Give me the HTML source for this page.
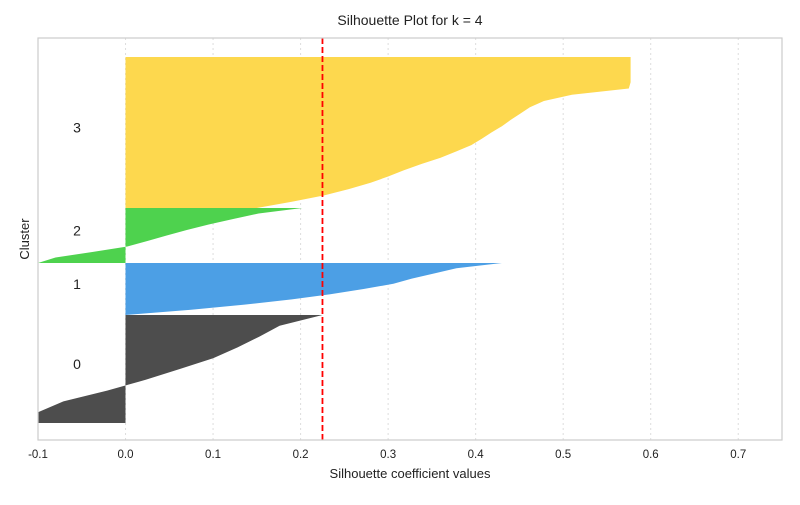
<!DOCTYPE html>
<html><head><meta charset="utf-8"><style>
body{margin:0;background:#fff;font-family:"Liberation Sans",sans-serif;}
</style></head><body>
<svg id="chart" width="800" height="500" viewBox="0 0 800 500" xmlns="http://www.w3.org/2000/svg">
<rect x="0" y="0" width="800" height="500" fill="#fff"/>
<g id="grid"></g>
<g id="marks"></g>
<rect x="38" y="38" width="744" height="402" fill="none" stroke="#cccccc" stroke-width="1.2"/>
<g id="ticks"></g>
<text x="410" y="25" text-anchor="middle" font-size="14" fill="#222">Silhouette Plot for k = 4</text>
<text x="410" y="478" text-anchor="middle" font-size="13" fill="#222">Silhouette coefficient values</text>
<text transform="translate(29,239) rotate(-90)" text-anchor="middle" font-size="13" fill="#222">Cluster</text>
</svg>
<script>
const clusterNames = ["0","1","2","3"];
const clusterSizes = [108, 52, 55, 151];
const cluster0 = [-0.3,-0.14,-0.071,-0.021,0.023,0.062,0.10,0.128,0.153,0.176,0.225];
const cluster1 = [0.0,0.075,0.136,0.19,0.234,0.272,0.306,0.327,0.353,0.378,0.43];
const cluster2 = [-0.11,-0.08,-0.038,0.002,0.025,0.047,0.07,0.095,0.123,0.152,0.202];
const cluster3 = [0.15,0.19,0.227,0.255,0.28,0.30,0.318,0.338,0.36,0.378,0.395,0.407,0.418,0.43,0.44,0.451,0.462,0.478,0.51,0.575,0.577,0.577,0.577,0.577,0.577];
const silhouetteAvg = 0.225;
const xTicks = [-0.1,0.0,0.1,0.2,0.3,0.4,0.5,0.6,0.7];
const tickLabels = ["-0.1","0.0","0.1","0.2","0.3","0.4","0.5","0.6","0.7"];
const colors = ["#4d4d4d","#4c9fe5","#4ed24e","#fdd84e"];

const NS="http://www.w3.org/2000/svg";
const X0=38,X1=782,Y0=440,Y1=38;
const xMin=-0.1,xMax=0.75,yMax=402;
function xs(v){return X0+(v-xMin)/(xMax-xMin)*(X1-X0);}
function ys(u){return Y0-u/yMax*(Y0-Y1);}
function clampX(v){return Math.max(X0,Math.min(X1,xs(v)));}

const grid=document.getElementById('grid');
const ticks=document.getElementById('ticks');
xTicks.forEach((t,i)=>{
  const l=document.createElementNS(NS,'line');
  l.setAttribute('x1',xs(t));l.setAttribute('x2',xs(t));
  l.setAttribute('y1',Y1);l.setAttribute('y2',Y0);
  l.setAttribute('stroke','#dddddd');l.setAttribute('stroke-dasharray','2,3');
  
  
  grid.appendChild(l);
  const tx=document.createElementNS(NS,'text');
  tx.setAttribute('x',xs(t));tx.setAttribute('y',458);
  tx.setAttribute('text-anchor','middle');tx.setAttribute('font-size','11.5');tx.setAttribute('fill','#222');
  tx.textContent=tickLabels[i];
  
  
  ticks.appendChild(tx);
});

const marks=document.getElementById('marks');
const series=[cluster0,cluster1,cluster2,cluster3];
let yLower=17;
series.forEach((vals,c)=>{
  const size=clusterSizes[c];
  const n=vals.length-1;
  let pts=[[clampX(0),ys(yLower)]];
  vals.forEach((v,i)=>{pts.push([clampX(v),ys(yLower+size*i/n)]);});
  pts.push([clampX(0),ys(yLower+size)]);
  const p=document.createElementNS(NS,'polygon');
  p.setAttribute('points',pts.map(q=>q[0].toFixed(1)+','+q[1].toFixed(1)).join(' '));
  p.setAttribute('fill',colors[c]);
  
  
  marks.appendChild(p);
  const t=document.createElementNS(NS,'text');
  t.setAttribute('x',77);t.setAttribute('y',ys(yLower+size/2));
  t.setAttribute('text-anchor','middle');t.setAttribute('font-size','14');t.setAttribute('fill','#222');
  t.textContent=clusterNames[c];
  
  
  marks.appendChild(t);
  yLower+=size;
});
const av=document.createElementNS(NS,'line');
av.setAttribute('x1',xs(silhouetteAvg));av.setAttribute('x2',xs(silhouetteAvg));
av.setAttribute('y1',Y1);av.setAttribute('y2',Y0);
av.setAttribute('stroke','#ff0000');av.setAttribute('stroke-width','1.8');av.setAttribute('stroke-dasharray','6,3');


marks.appendChild(av);
</script>
</body></html>
